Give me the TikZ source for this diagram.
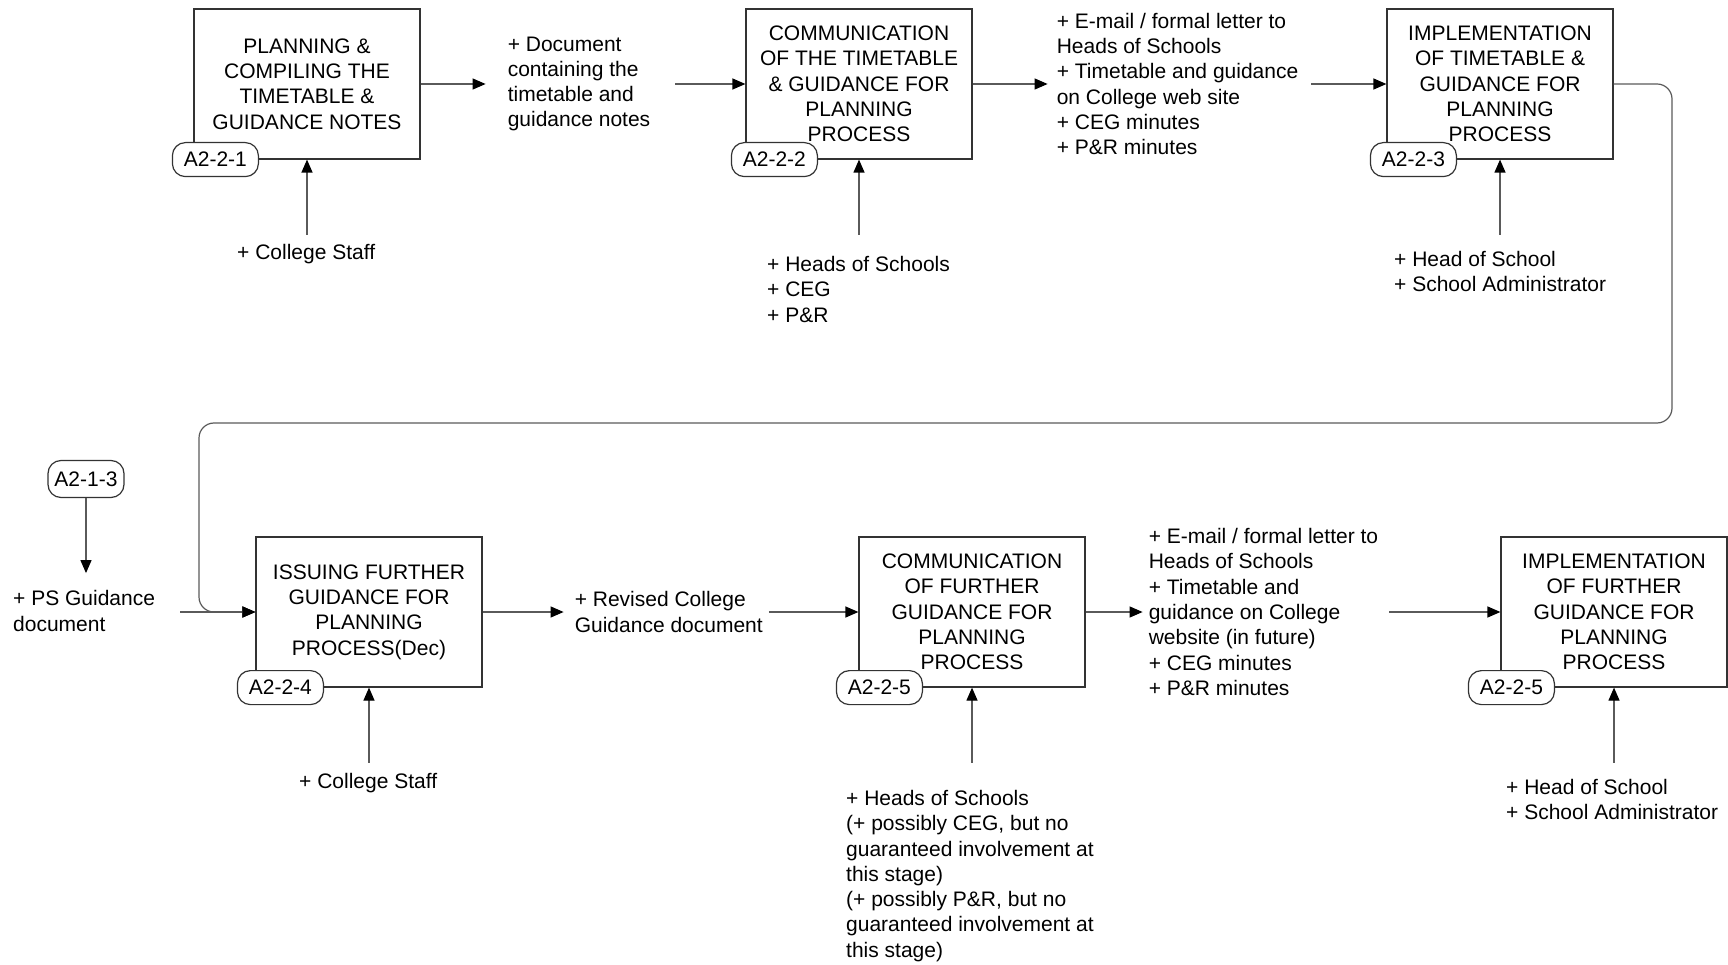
\documentclass[tikz,border=0pt]{standalone}
\usepackage{fontspec}
\setmainfont{Liberation Sans}
\usetikzlibrary{arrows.meta,positioning}
\definecolor{idefline}{HTML}{5A5A5A}
\definecolor{idefborder}{HTML}{333333}

\begin{document}
\begin{tikzpicture}[x=1pt,y=-1pt,
  every node/.style={font=\fontsize{21}{25.3}\selectfont},
  actbox/.style={rectangle, draw=idefborder, line width=1.2pt,
               minimum width=226pt, minimum height=150pt,
               align=center, inner sep=0pt},
  tagbox/.style={rectangle, rounded corners=13pt, draw=idefborder, fill=white,
               line width=1.2pt, minimum width=86pt, minimum height=34pt, inner sep=0pt},
  note/.style={align=left, inner sep=0pt},
  arrow/.style={-{Triangle[length=13pt,width=11pt,color=black]}, line width=1.2pt, draw=idefline}
]
  \useasboundingbox (0,0) rectangle (1728,965);
  % top row
  \node[actbox] (p1) at (307,84) {PLANNING \&\\COMPILING THE\\TIMETABLE \&\\GUIDANCE NOTES};
  \node[actbox] (p2) at (859,84) {COMMUNICATION\\OF THE TIMETABLE\\\& GUIDANCE FOR\\PLANNING\\PROCESS};
  \node[actbox] (p3) at (1500,84) {IMPLEMENTATION\\OF TIMETABLE \&\\GUIDANCE FOR\\PLANNING\\PROCESS};
  \node[tagbox] (a1) at ([xshift=22pt]p1.south west) {A2-2-1};
  \node[tagbox] (a2) at ([xshift=29pt]p2.south west) {A2-2-2};
  \node[tagbox] (a3) at ([xshift=27pt]p3.south west) {A2-2-3};
  \node[note,right=87pt of p1] (t1) {+ Document\\containing the\\timetable and\\guidance notes};
  \node[note,right=84pt of p2] (t2) {+ E-mail / formal letter to\\Heads of Schools\\+ Timetable and guidance\\on College web site\\+ CEG minutes\\+ P\&R minutes};
  \node[note,anchor=north west] (m1) at (237,244) {+ College Staff};
  \node[note,anchor=north west] (m2) at (767,256) {+ Heads of Schools\\+ CEG\\+ P\&R};
  \node[note,anchor=north west] (m3) at (1394,251) {+ Head of School\\+ School Administrator};
  % bottom row
  \node[actbox] (p4) at (369,612) {ISSUING FURTHER\\GUIDANCE FOR\\PLANNING\\PROCESS(Dec)};
  \node[actbox] (p5) at (972,612) {COMMUNICATION\\OF FURTHER\\GUIDANCE FOR\\PLANNING\\PROCESS};
  \node[actbox] (p6) at (1614,612) {IMPLEMENTATION\\OF FURTHER\\GUIDANCE FOR\\PLANNING\\PROCESS};
  \node[tagbox] (a4) at ([xshift=25pt]p4.south west) {A2-2-4};
  \node[tagbox] (a5) at ([xshift=21pt]p5.south west) {A2-2-5};
  \node[tagbox] (a6) at ([xshift=11pt]p6.south west) {A2-2-5};
  \node[tagbox,minimum width=76pt,minimum height=37pt] (a0) at (86,479) {A2-1-3};
  \node[note,anchor=west] (ps) at (13,611) {+ PS Guidance\\document};
  \node[note,right=92pt of p4] (t4) {+ Revised College\\Guidance document};
  \node[note,right=63pt of p5] (t5) {+ E-mail / formal letter to\\Heads of Schools\\+ Timetable and\\guidance on College\\website (in future)\\+ CEG minutes\\+ P\&R minutes};
  \node[note,anchor=north west] (m4) at (299,773) {+ College Staff};
  \node[note,anchor=north west] (m5) at (846,790) {+ Heads of Schools\\(+ possibly CEG, but no\\guaranteed involvement at\\this stage)\\(+ possibly P\&R, but no\\guaranteed involvement at\\this stage)};
  \node[note,anchor=north west] (m6) at (1506,779) {+ Head of School\\+ School Administrator};
  \coordinate (loopR) at (1672,423);
  \coordinate (loopL) at (199,423);
  % flows
  \draw[arrow,shorten >=22pt] (p1.east) -- (t1.west |- p1.east);
  \draw[arrow,shorten <=25pt] (t1.east |- p2.west) -- (p2.west);
  \draw[arrow,shorten >=9pt] (p2.east) -- (t2.west |- p2.east);
  \draw[arrow,shorten <=13pt] (t2.east |- p3.west) -- (p3.west);
  \draw[arrow,rounded corners=15pt] (p3.east) -| (loopR) -- (loopL) |- (p4.west);
  \draw[arrow] (a0.south) -- ([yshift=-75pt]a0.south);
  \draw[arrow,shorten <=25pt] (ps.east |- p4.west) -- (p4.west);
  \draw[arrow,shorten >=11pt] (p4.east) -- (t4.west |- p4.east);
  \draw[arrow,shorten <=6pt] (t4.east |- p5.west) -- (p5.west);
  \draw[arrow,shorten >=6pt] (p5.east) -- (t5.west |- p5.east);
  \draw[arrow,shorten <=11pt] (t5.east |- p6.west) -- (p6.west);
  % mechanisms
  \foreach \p in {p1,p2,p3,p4,p5,p6}
    \draw[arrow] ([yshift=-75pt]\p.south) -- (\p.south);
\end{tikzpicture}
\end{document}
